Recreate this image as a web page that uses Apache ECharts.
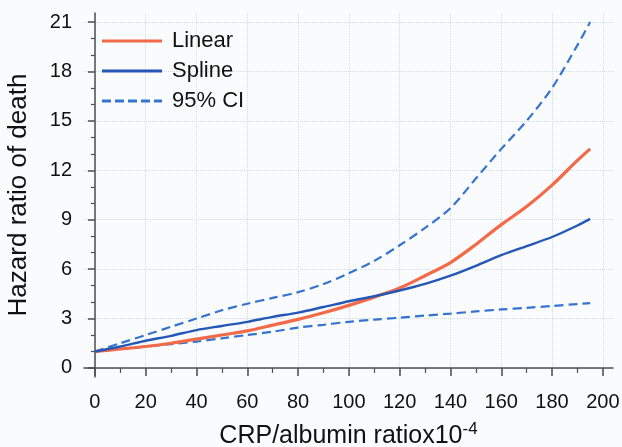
<!DOCTYPE html>
<html>
<head>
<meta charset="utf-8">
<script src="https://cdn.jsdelivr.net/npm/echarts@6/dist/echarts.min.js"></script>
<style>
html, body { margin: 0; padding: 0; background: #fafbfd; }
#chart { width: 622px; height: 447px; }
</style>
</head>
<body>
<div id="chart"></div>
<script>
var xs = [0, 10, 20, 30, 40, 50, 60, 70, 80, 90, 100, 110, 120, 130, 140, 150, 160, 170, 180, 190, 195];
var linear = [1.0, 1.15, 1.3, 1.5, 1.75, 2.0, 2.25, 2.6, 2.95, 3.35, 3.8, 4.3, 4.85, 5.6, 6.4, 7.5, 8.7, 9.8, 11.1, 12.6, 13.3];
var spline = [1.0, 1.3, 1.65, 1.95, 2.3, 2.55, 2.8, 3.1, 3.36, 3.7, 4.05, 4.35, 4.7, 5.1, 5.6, 6.2, 6.85, 7.4, 7.95, 8.65, 9.05];
var ciUpper = [1.0, 1.5, 2.0, 2.5, 3.0, 3.5, 3.9, 4.25, 4.6, 5.1, 5.75, 6.5, 7.45, 8.5, 9.7, 11.5, 13.3, 15.0, 17.0, 19.6, 21.0];
var ciLower = [1.0, 1.15, 1.3, 1.45, 1.6, 1.8, 2.0, 2.2, 2.45, 2.62, 2.8, 2.93, 3.05, 3.18, 3.3, 3.43, 3.55, 3.65, 3.76, 3.88, 3.93];

var xTicks = [0, 20, 40, 60, 80, 100, 120, 140, 160, 180, 200];
var xMinor = [10, 30, 50, 70, 90, 110, 130, 150, 170, 190];
var yTicks = [0, 3, 6, 9, 12, 15, 18, 21];
var yMinor = [1, 2, 4, 5, 7, 8, 10, 11, 13, 14, 16, 17, 19, 20];

function pairs(vals) {
	return xs.map(function(x, i) { return [x, vals[i]]; });
}

var axisColor = '#4a4f4f';
var font = 'Liberation Sans, Arial, sans-serif';
var solidIcon = 'path://M0,0H60V3H0Z';
var dashIcon = 'path://M0,0h9v3h-9z M13,0h9v3h-9z M26,0h9v3h-9z M39,0h9v3h-9z M52,0h8v3h-8z';

var myChart = echarts.init(document.getElementById('chart'));
var option = {
	backgroundColor: '#fafbfd',
	animation: false,
	grid: {
		left: 84,
		right: 9,
		top: 13,
		bottom: 70,
		outerBoundsMode: 'none',
		containLabel: false
	},
	legend: {
		orient: 'vertical',
		left: 97,
		top: 25,
		itemWidth: 60,
		itemHeight: 3,
		itemGap: 8,
		textStyle: {
			fontFamily: font,
			fontSize: 22,
			lineHeight: 22,
			color: '#111',
			padding: [0, 0, 0, 5]
		},
		data: [
			{ name: 'Linear', icon: solidIcon },
			{ name: 'Spline', icon: solidIcon },
			{ name: '95% CI', icon: dashIcon }
		]
	},
	xAxis: [{
		type: 'value',
		min: -4.3,
		max: 204,
		name: 'CRP/albumin ratiox10{sup|-4}',
		nameLocation: 'middle',
		nameGap: 44,
		nameTextStyle: {
			fontFamily: font,
			fontSize: 25,
			color: '#111',
			rich: {
				sup: {
					fontFamily: font,
					fontSize: 17,
					color: '#111',
					padding: [0, 0, 14, 0]
				}
			}
		},
		axisLine: { show: true, lineStyle: { color: axisColor, width: 1.5 } },
		axisTick: { show: true, length: 8, customValues: xTicks, lineStyle: { color: axisColor, width: 1.5 } },
		axisLabel: {
			customValues: xTicks,
			margin: 15,
			fontFamily: font,
			fontSize: 20,
			color: '#111'
		},
		splitLine: { show: true, lineStyle: { color: '#cfdeea', type: 'dotted', width: 1 } }
	}, {
		type: 'value',
		min: -4.3,
		max: 204,
		position: 'bottom',
		axisLine: { show: false },
		axisTick: { show: true, length: 5, customValues: xMinor, lineStyle: { color: axisColor, width: 1.2 } },
		axisLabel: { show: false },
		splitLine: { show: false }
	}],
	yAxis: [{
		type: 'value',
		min: -0.55,
		max: 21.55,
		name: 'Hazard ratio of death',
		nameLocation: 'middle',
		nameGap: 52,
		nameTextStyle: {
			fontFamily: font,
			fontSize: 26,
			color: '#111'
		},
		axisLine: { show: true, lineStyle: { color: axisColor, width: 1.5 } },
		axisTick: { show: true, length: 7, customValues: yTicks, lineStyle: { color: axisColor, width: 1.5 } },
		axisLabel: {
			customValues: yTicks,
			margin: 12,
			fontFamily: font,
			fontSize: 20,
			color: '#111'
		},
		splitLine: { show: true, lineStyle: { color: '#cfdeea', type: 'dotted', width: 1 } }
	}, {
		type: 'value',
		min: -0.55,
		max: 21.55,
		position: 'left',
		axisLine: { show: false },
		axisTick: { show: true, length: 4, customValues: yMinor, lineStyle: { color: axisColor, width: 1.2 } },
		axisLabel: { show: false },
		splitLine: { show: false }
	}],
	series: [{
		name: 'Linear',
		type: 'line',
		smooth: 0.3,
		symbol: 'none',
		data: pairs(linear),
		lineStyle: { color: '#f26a47', width: 3.2 },
		itemStyle: { color: '#f26a47' },
		z: 3
	}, {
		name: 'Spline',
		type: 'line',
		smooth: 0.3,
		symbol: 'none',
		data: pairs(spline),
		lineStyle: { color: '#2457b6', width: 2.4 },
		itemStyle: { color: '#2457b6' },
		z: 4
	}, {
		name: '95% CI',
		type: 'line',
		smooth: 0.3,
		symbol: 'none',
		data: pairs(ciUpper),
		lineStyle: { color: '#3474cf', width: 2.2, type: [9, 5] },
		itemStyle: { color: '#3474cf' },
		z: 2
	}, {
		name: '95% CI',
		type: 'line',
		smooth: 0.3,
		symbol: 'none',
		data: pairs(ciLower),
		lineStyle: { color: '#3474cf', width: 2.2, type: [9, 5] },
		itemStyle: { color: '#3474cf' },
		z: 2
	}]
};
myChart.setOption(option);
</script>
</body>
</html>
